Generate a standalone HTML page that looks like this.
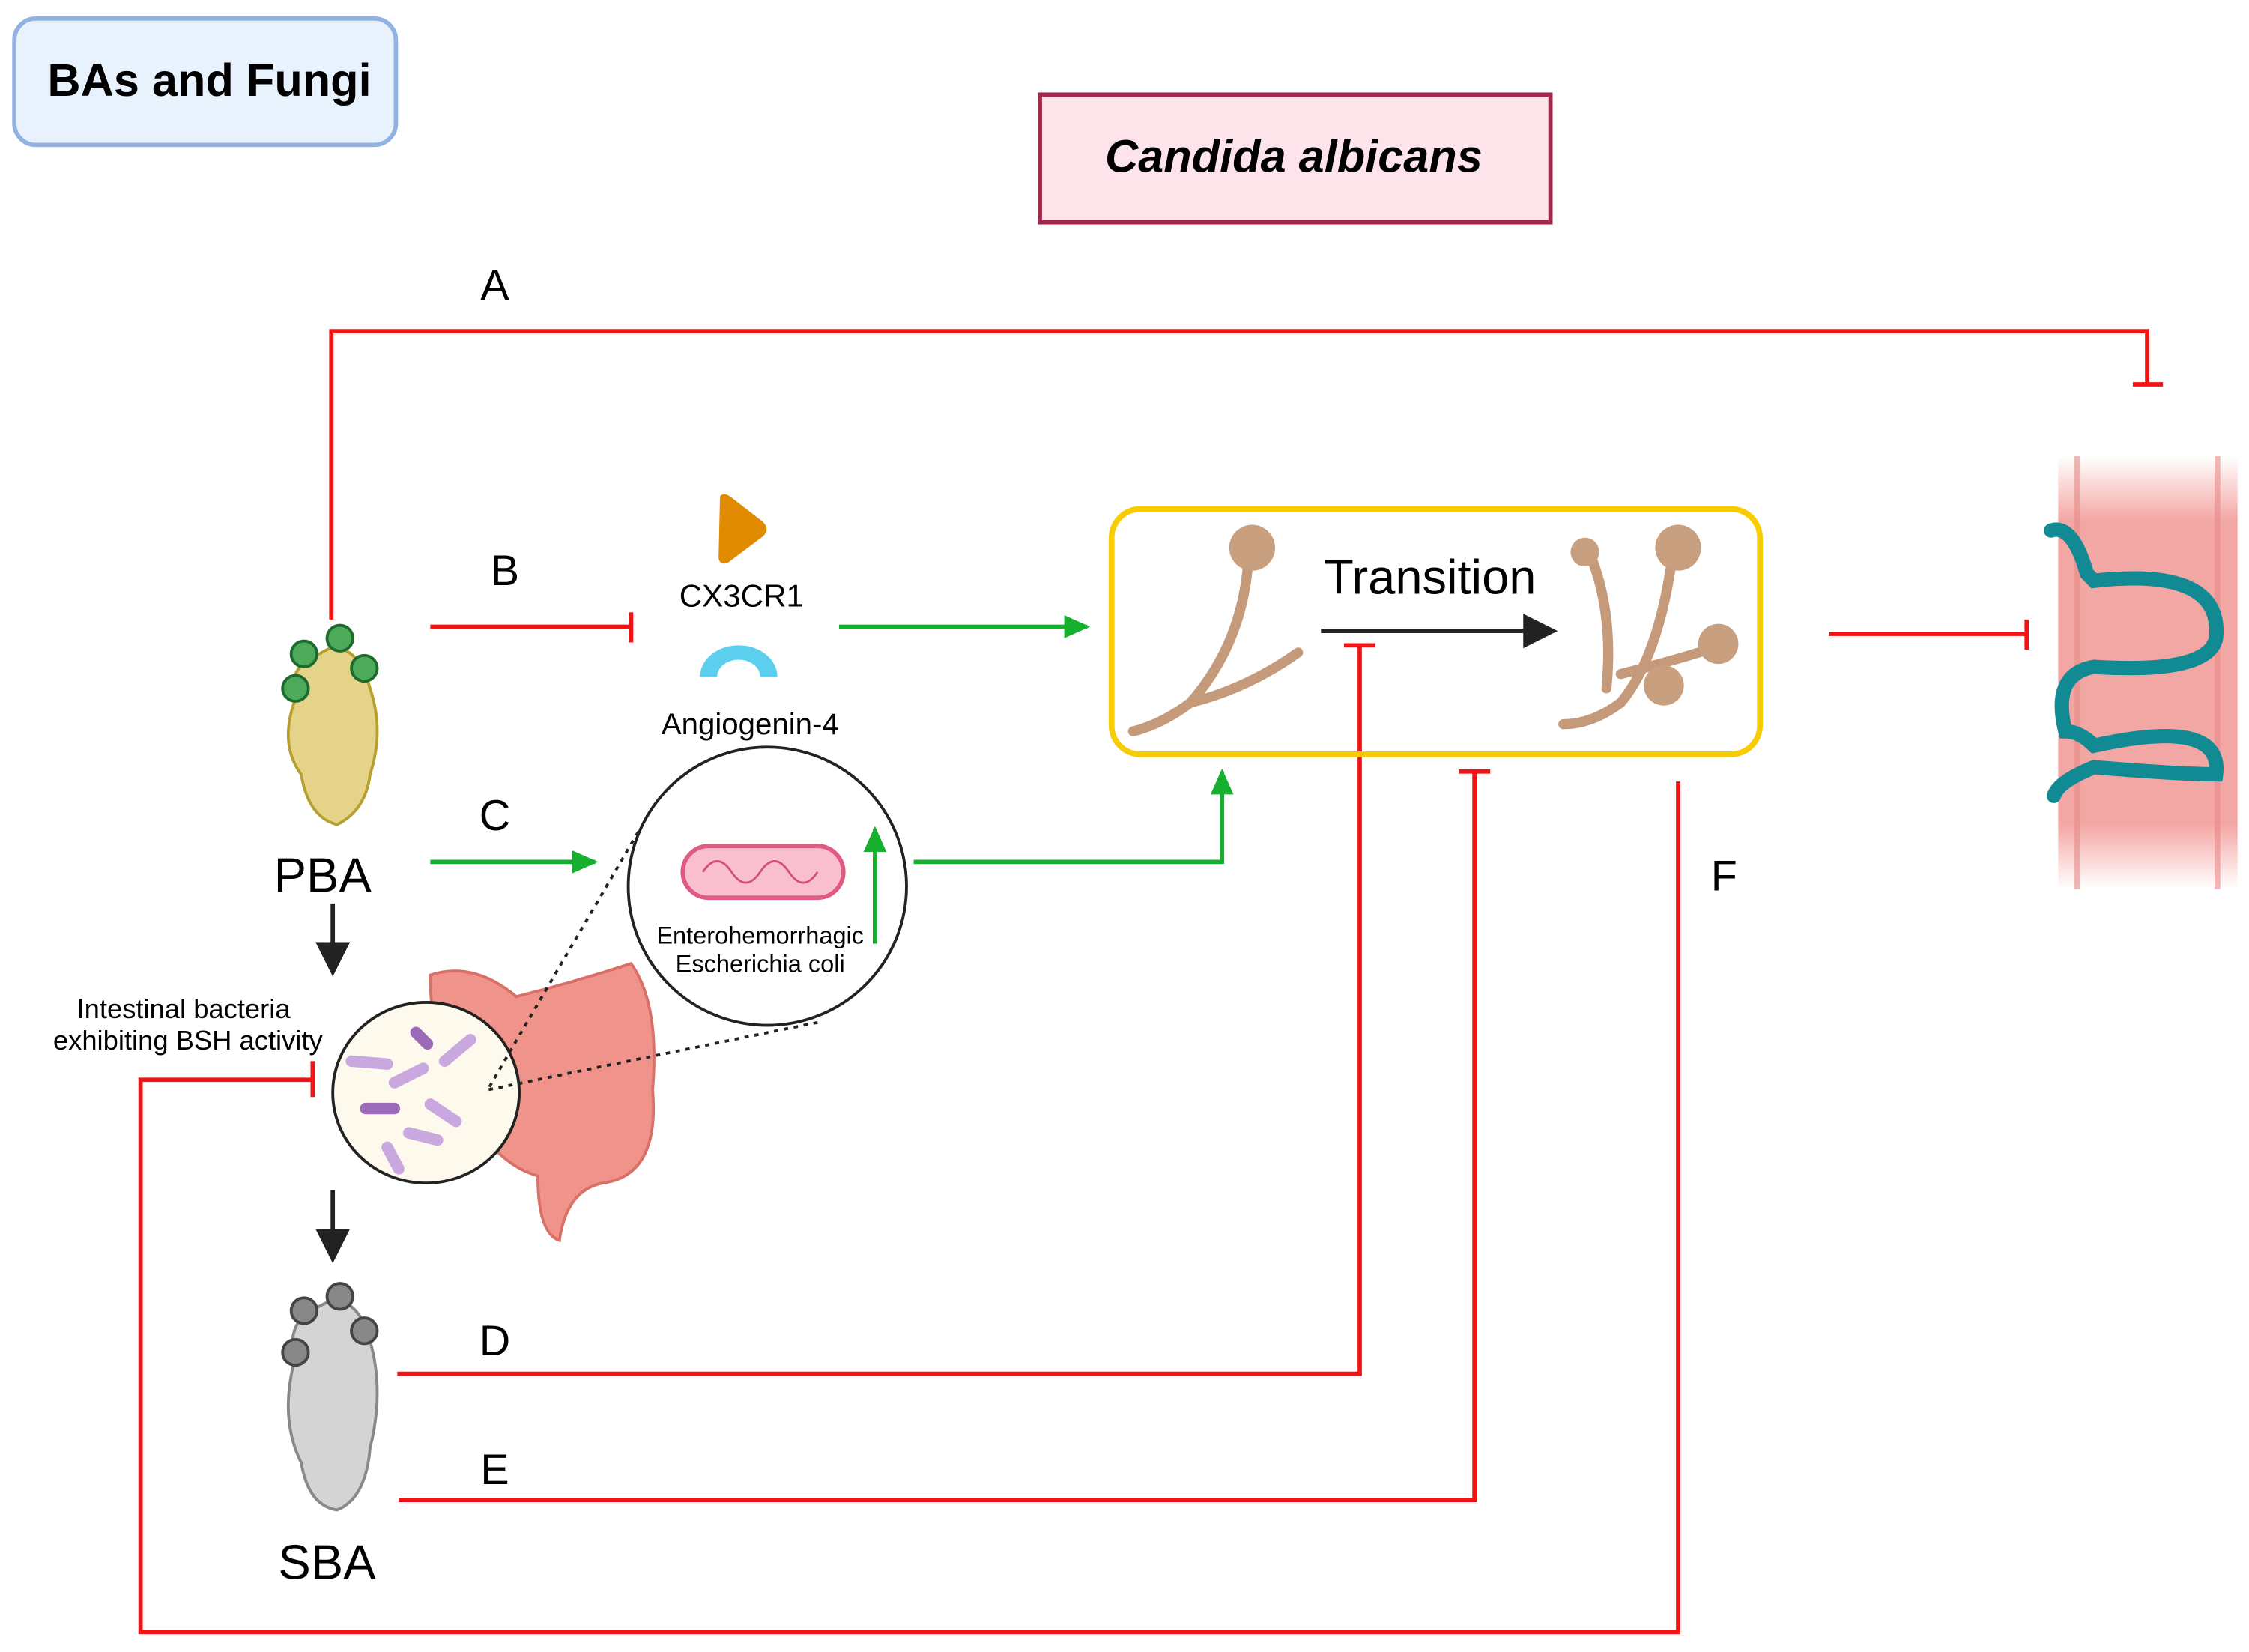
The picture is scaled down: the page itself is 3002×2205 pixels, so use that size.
<!DOCTYPE html>
<html><head><meta charset="utf-8"><style>html,body{margin:0;padding:0;background:#fff}svg{display:block}</style></head>
<body>
<svg width="3002" height="2205" viewBox="0 0 1568 1152" preserveAspectRatio="none" xmlns="http://www.w3.org/2000/svg" font-family="Liberation Sans, sans-serif">
<defs>
<marker id="g" markerWidth="18" markerHeight="16" refX="16" refY="8" orient="auto" markerUnits="userSpaceOnUse" viewBox="0 0 18 16"><path d="M0,0 L18,8 L0,16z" fill="#16b02e"/></marker>
<marker id="k" markerWidth="8" markerHeight="8" refX="7" refY="4" orient="auto" viewBox="0 0 8 8"><path d="M0,0 L8,4 L0,8z" fill="#222"/></marker>
<linearGradient id="fade" x1="0" y1="0" x2="0" y2="1"><stop offset="0" stop-color="#f3a7a4" stop-opacity="0"/><stop offset="0.15" stop-color="#f3a7a4"/><stop offset="0.85" stop-color="#f3a7a4"/><stop offset="1" stop-color="#f3a7a4" stop-opacity="0"/></linearGradient>
</defs>
<rect x="10" y="13" width="266" height="88" rx="15" fill="#e8f2fc" stroke="#92b2e2" stroke-width="3"/>
<text x="146" y="67" font-size="32" font-weight="bold" text-anchor="middle">BAs and Fungi</text>
<rect x="725" y="66" width="356" height="89" fill="#fde4ea" stroke="#a0284a" stroke-width="3"/>
<text x="902" y="120" font-size="32" font-weight="bold" font-style="italic" text-anchor="middle">Candida albicans</text>

<g stroke="#f01414" stroke-width="3" fill="none">
<path d="M231,432 V231 H1497 V268"/><path d="M1487,268 H1508"/>
<path d="M300,437 H440"/><path d="M440,427 V448"/>
<path d="M277,958 H948 V450"/><path d="M937,450 H959"/>
<path d="M278,1046 H1028 V538"/><path d="M1017,538 H1039"/>
<path d="M1170,545 V1138 H98 V753 H218"/><path d="M218,740 V765"/>
<path d="M1275,442 H1413"/><path d="M1413,432 V453"/>
</g>
<g stroke="#16b02e" stroke-width="3" fill="none">
<path d="M585,437 H758" marker-end="url(#g)"/>
<path d="M300,601 H415" marker-end="url(#g)"/>
<path d="M637,601 H852 V538" marker-end="url(#g)"/>
</g>
<g stroke="#222" stroke-width="3">
<path d="M232,630 V678" marker-end="url(#k)"/>
<path d="M232,830 V878" marker-end="url(#k)"/>
<path d="M921,440 H1083" marker-end="url(#k)"/>
</g>
<g font-size="30" text-anchor="middle"><text x="345" y="209">A</text><text x="352" y="408">B</text><text x="345" y="579">C</text><text x="345" y="945">D</text><text x="345" y="1035">E</text><text x="1202" y="621">F</text></g>

<path d="M502,346 Q505,343 510,347 L532,364 Q537,369 532,374 L508,392 Q502,395 501,389z" fill="#e08a00"/>
<text x="517" y="423" font-size="22" text-anchor="middle">CX3CR1</text>
<path d="M488,472 A27,22 0 0 1 542,472 L530,472 A15,12 0 0 0 500,472z" fill="#5ccfee"/>
<text x="523" y="512" font-size="21" text-anchor="middle">Angiogenin-4</text>

<rect x="775" y="355" width="452" height="171" rx="20" fill="none" stroke="#f7cc00" stroke-width="4"/>
<text x="997" y="414" font-size="34" text-anchor="middle">Transition</text>
<g stroke="#c49a7a" stroke-width="7" fill="none" stroke-linecap="round">
<path d="M870,395 Q865,450 830,490 Q810,505 790,510"/><path d="M830,490 Q870,480 905,455"/>
<path d="M1165,395 Q1155,460 1130,490 Q1110,505 1090,505"/><path d="M1110,390 Q1125,430 1120,480"/><path d="M1130,470 Q1170,460 1200,450"/>
</g>
<circle cx="873" cy="382" r="16" fill="#c9a07f"/><circle cx="1170" cy="382" r="16" fill="#c9a07f"/><circle cx="1198" cy="449" r="14" fill="#c9a07f"/><circle cx="1160" cy="478" r="14" fill="#c9a07f"/><circle cx="1105" cy="385" r="10" fill="#c9a07f"/>

<path d="M1435,318 H1560 V620 H1435z" fill="url(#fade)"/>
<path d="M1448,318 V620 M1546,318 V620" stroke="#e88a88" stroke-width="4" opacity="0.6"/>
<path d="M1430,370 Q1445,365 1455,400 L1460,405 Q1550,395 1545,445 Q1540,470 1460,465 Q1430,470 1440,510 Q1450,510 1460,520 Q1550,500 1545,540 Q1520,540 1460,535 Q1435,545 1432,555" fill="none" stroke="#128a94" stroke-width="10" stroke-linecap="round"/>

<path d="M215,460 Q200,470 205,490 Q195,520 210,540 Q215,570 235,575 Q255,565 258,540 Q268,510 258,480 Q250,450 230,452z" fill="#e5d38a" stroke="#b8a030" stroke-width="2"/>
<g fill="#4caa5a" stroke="#1f6b2e" stroke-width="2"><circle cx="212" cy="456" r="9"/><circle cx="237" cy="445" r="9"/><circle cx="254" cy="466" r="9"/><circle cx="206" cy="480" r="9"/></g>
<text x="225" y="622" font-size="34" text-anchor="middle">PBA</text>

<path d="M215,915 Q200,925 205,950 Q195,990 210,1020 Q215,1050 235,1053 Q255,1045 258,1010 Q268,970 258,935 Q250,905 230,907z" fill="#d4d4d4" stroke="#888" stroke-width="2"/>
<g fill="#888" stroke="#444" stroke-width="2"><circle cx="212" cy="914" r="9"/><circle cx="237" cy="904" r="9"/><circle cx="254" cy="928" r="9"/><circle cx="206" cy="943" r="9"/></g>
<text x="228" y="1101" font-size="34" text-anchor="middle">SBA</text>

<path d="M300,680 Q330,670 360,695 Q400,685 440,672 Q460,700 455,760 Q460,820 420,825 Q395,830 390,865 Q375,860 375,820 Q340,810 320,760 Q300,730 300,680z" fill="#f0938a" stroke="#d97068" stroke-width="2"/>
<ellipse cx="297" cy="762" rx="65" ry="63" fill="#fdf9ec" stroke="#222" stroke-width="2"/>
<g stroke="#c9a8e0" stroke-width="8" stroke-linecap="round"><path d="M245,740 L270,742"/><path d="M275,755 L295,745"/><path d="M310,740 L328,725"/><path d="M300,770 L318,782"/><path d="M285,790 L305,795"/><path d="M270,800 L278,815"/></g>
<g stroke="#9a6ab8" stroke-width="8" stroke-linecap="round"><path d="M255,773 L275,773"/><path d="M290,720 L298,728"/></g>
<g stroke="#222" stroke-width="2" stroke-dasharray="3,4"><path d="M445,580 L340,760"/><path d="M570,713 L340,760"/></g>
<text x="128" y="710" font-size="19" text-anchor="middle">Intestinal bacteria</text>
<text x="131" y="732" font-size="19" text-anchor="middle">exhibiting BSH activity</text>

<circle cx="535" cy="618" r="97" fill="#fff" stroke="#222" stroke-width="2"/>
<rect x="476" y="590" width="112" height="36" rx="18" fill="#f9bfd0" stroke="#e05a82" stroke-width="3"/>
<path d="M490,608 q10,-15 20,0 t20,0 t20,0 t20,0" fill="none" stroke="#d2507a" stroke-width="1.5"/>
<path d="M610,658 V578" stroke="#16b02e" stroke-width="3" fill="none" marker-end="url(#g)"/>
<text x="530" y="658" font-size="17" text-anchor="middle">Enterohemorrhagic</text>
<text x="530" y="678" font-size="17" text-anchor="middle">Escherichia coli</text>
</svg>
</body></html>
